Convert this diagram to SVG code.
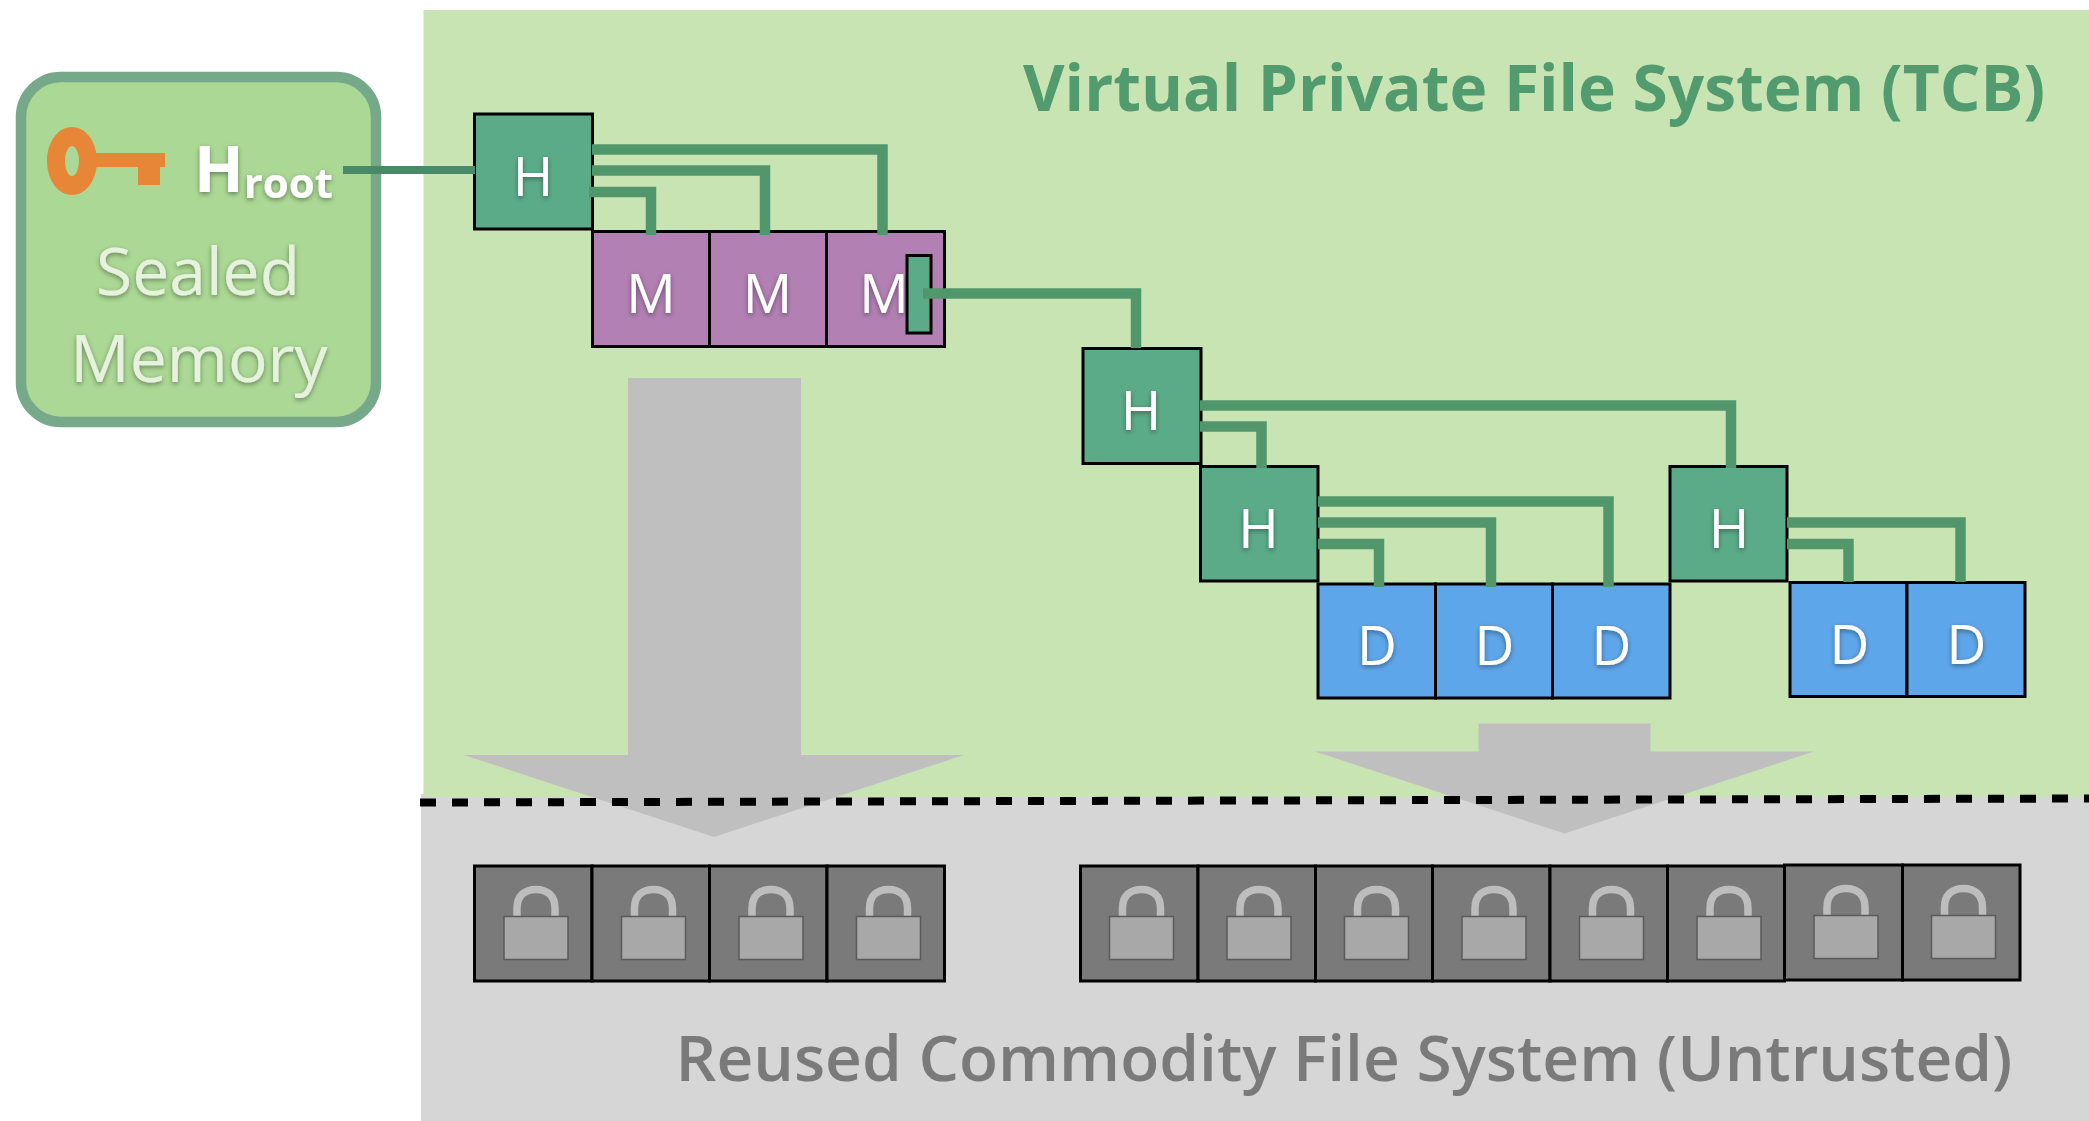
<svg xmlns="http://www.w3.org/2000/svg" width="2089" height="1121" viewBox="0 0 2089 1121">
<style>
text{font-family:"Open Sans","Noto Sans","Liberation Sans",sans-serif}
.box{stroke:#000;stroke-width:3}
.h{fill:#5cab88}.m{fill:#b280b3}.d{fill:#5ea6ea}.e{fill:#7a7a7a}
.lbl{fill:#fff;font-size:55px;font-weight:500;text-anchor:middle;filter:url(#sh)}
.sealed{fill:#e6f2de;font-size:66px;font-weight:500;text-anchor:middle;filter:url(#sh)}
.conn{fill:none;stroke:#52976c;stroke-width:10.500}
.big{fill:#bfbfbf}
</style>
<defs>
<filter id="sh" x="-30%" y="-30%" width="160%" height="170%"><feDropShadow dx="0" dy="2" stdDeviation="2.5" flood-color="#000" flood-opacity=".4"/></filter>
<g id="lock">
<path d="M-19 51V43C-19 30-11 24 0 24S19 30 19 43V51" fill="none" stroke="#bdbdbd" stroke-width="7.5"/>
<rect x="-32" y="51" width="64" height="43" fill="#a8a8a8" stroke="#5a5a5a" stroke-width="1.5"/>
</g>
</defs>
<rect id="trusted-area" x="423.500" y="10" width="1665.500" height="787" fill="#c9e4b3"/>
<rect id="untrusted-area" x="421" y="797" width="1668" height="324" fill="#d6d6d6"/>
<rect x="421" y="794" width="3" height="3" fill="#d6d6d6"/>
<polygon id="arrow-metadata" class="big" points="628,378 801,378 801,755 964,755 714,837 464,755 628,755"/>
<polygon id="arrow-data" class="big" points="1478.500,723.500 1650.500,723.500 1650.500,751.500 1814,751.500 1564.500,833.500 1315,751.500 1478.500,751.500"/>
<line id="boundary" x1="420" y1="802.500" x2="2089" y2="798.500" stroke="#000" stroke-width="8" stroke-dasharray="16 16"/>
<text id="title-trusted" x="1023" y="111" font-size="64" font-weight="700" fill="#529b6f">Virtual Private File System (TCB)</text>
<text id="title-untrusted" x="675.500" y="1081" font-size="64" font-weight="600" fill="#7a7a7a">Reused Commodity File System (Untrusted)</text>
<g id="sealed-memory">
<rect x="21" y="77" width="355" height="345" rx="40" fill="#abd895" stroke="#76a98a" stroke-width="10.500"/>
<path d="M95 153H165V167H160V185H138V167H95Z" fill="#e68636"/>
<path fill-rule="evenodd" d="M72 127C58 127 47 142 47 161S58 195 72 195S97 180 97 161S86 127 72 127ZM72 146C76 146 79 153 79 161S76 176 72 176S65 169 65 161S68 146 72 146Z" fill="#e68636"/>
<text x="194" y="192" fill="#fff" font-size="65" font-weight="700" filter="url(#sh)">H<tspan font-size="42" dy="6">root</tspan></text>
<text class="sealed" x="198" y="295">Sealed</text>
<text class="sealed" x="199" y="382">Memory</text>
</g>
<g id="node-h-root"><rect class="box h" x="474.500" y="114" width="118" height="115"/><text class="lbl" x="533" y="195.500">H</text></g>
<g id="node-m1"><rect class="box m" x="592.500" y="231.500" width="117" height="115"/><text class="lbl" x="651" y="313">M</text></g>
<g id="node-m2"><rect class="box m" x="709.500" y="231.500" width="117" height="115"/><text class="lbl" x="767.500" y="313">M</text></g>
<g id="node-m3"><rect class="box m" x="826.500" y="231.500" width="118" height="115"/><text class="lbl" x="884" y="313">M</text><rect class="box h" x="907" y="255.500" width="24" height="77.500"/></g>
<g id="node-h2"><rect class="box h" x="1083" y="348.500" width="118" height="115"/><text class="lbl" x="1141" y="430">H</text></g>
<g id="node-h3"><rect class="box h" x="1200.500" y="466.500" width="117.500" height="114.500"/><text class="lbl" x="1258.500" y="547.500">H</text></g>
<g id="node-h4"><rect class="box h" x="1670" y="466.500" width="117" height="114.500"/><text class="lbl" x="1729" y="547.500">H</text></g>
<g id="node-d1"><rect class="box d" x="1318" y="584" width="117.500" height="114"/><text class="lbl" x="1377" y="664.500">D</text></g>
<g id="node-d2"><rect class="box d" x="1435.500" y="584" width="117" height="114"/><text class="lbl" x="1494.500" y="664.500">D</text></g>
<g id="node-d3"><rect class="box d" x="1552.500" y="584" width="117.500" height="114"/><text class="lbl" x="1611.500" y="664.500">D</text></g>
<g id="node-d4"><rect class="box d" x="1790" y="582.500" width="117" height="114"/><text class="lbl" x="1849.500" y="663.500">D</text></g>
<g id="node-d5"><rect class="box d" x="1907" y="582.500" width="118" height="114"/><text class="lbl" x="1966.500" y="663.500">D</text></g>
<g id="encrypted-left">
<rect class="box e" x="474.500" y="866" width="117.500" height="115"/><use href="#lock" x="536" y="865.500"/>
<rect class="box e" x="592" y="866" width="117.500" height="115"/><use href="#lock" x="653.500" y="865.500"/>
<rect class="box e" x="709.500" y="866" width="117.500" height="115"/><use href="#lock" x="771" y="865.500"/>
<rect class="box e" x="827" y="866" width="117.500" height="115"/><use href="#lock" x="888.500" y="865.500"/>
</g>
<g id="encrypted-right">
<rect class="box e" x="1080.500" y="866" width="117.500" height="115"/><use href="#lock" x="1141.500" y="865.500"/>
<rect class="box e" x="1198" y="866" width="117.500" height="115"/><use href="#lock" x="1259" y="865.500"/>
<rect class="box e" x="1315.500" y="866" width="117" height="115"/><use href="#lock" x="1376.500" y="865.500"/>
<rect class="box e" x="1432.500" y="866" width="117.500" height="115"/><use href="#lock" x="1494" y="865.500"/>
<rect class="box e" x="1550" y="866" width="117.500" height="115"/><use href="#lock" x="1611.500" y="865.500"/>
<rect class="box e" x="1667.500" y="866" width="117" height="115"/><use href="#lock" x="1729" y="865.500"/>
<rect class="box e" x="1784.500" y="865" width="118" height="115"/><use href="#lock" x="1846" y="864.500"/>
<rect class="box e" x="1902.500" y="865" width="117.500" height="115"/><use href="#lock" x="1963.500" y="864.500"/>
</g>
<g id="connectors">
<path class="conn" style="stroke-width:8;stroke:#4a8a68" d="M343 170H475"/>
<path class="conn" d="M592 149.500H882.500V235"/>
<path class="conn" d="M592 170.500H765V235"/>
<path class="conn" d="M589 192H651V235"/>
<path class="conn" d="M923 293.500H1136V348"/>
<path class="conn" d="M1200 405.500H1731V468"/>
<path class="conn" d="M1200 426.500H1261.500V468"/>
<path class="conn" d="M1318 501.500H1608.500V587"/>
<path class="conn" d="M1318 522.500H1491V587"/>
<path class="conn" d="M1318 544H1379V587"/>
<path class="conn" d="M1787 522.500H1960.500V582"/>
<path class="conn" d="M1787 544H1848.500V582"/>
</g>
</svg>
